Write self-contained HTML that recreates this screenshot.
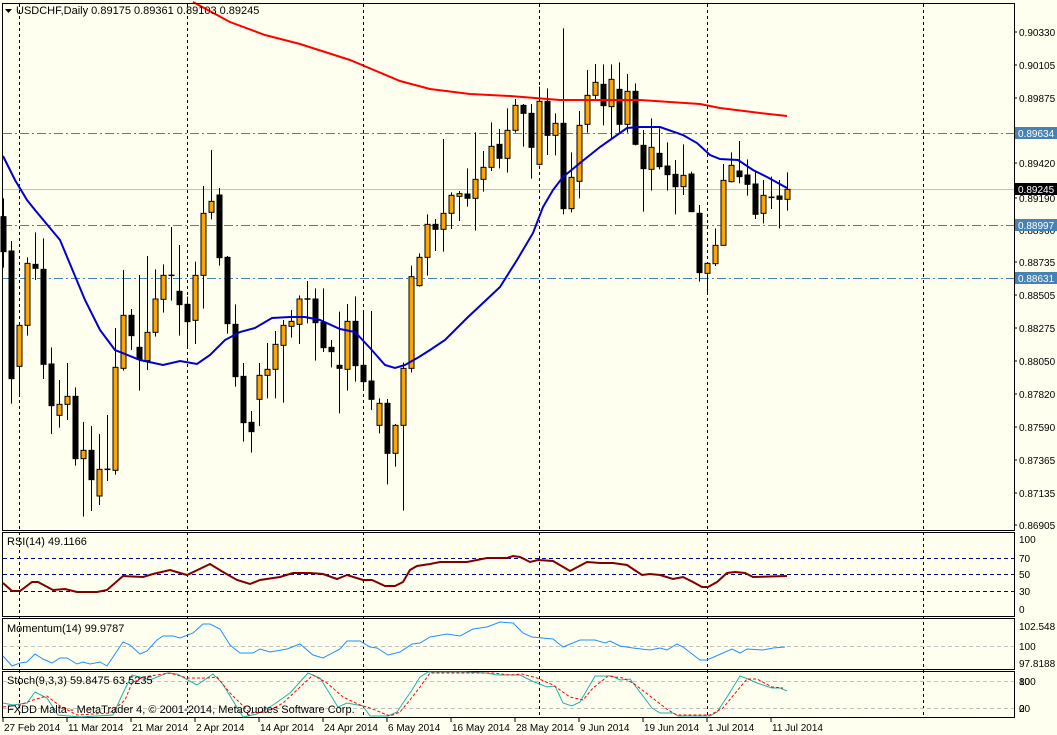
<!DOCTYPE html>
<html><head><meta charset="utf-8"><style>
html,body{margin:0;padding:0;background:#FFFFF0;}
svg{display:block;font-family:"Liberation Sans",sans-serif;}
</style></head><body>
<svg id="s" width="1057" height="735" xmlns="http://www.w3.org/2000/svg">
<rect width="1057" height="735" fill="#FFFFF0"/>
<g id="grid" stroke="#000" stroke-width="1" stroke-dasharray="3,3">
<line x1="19.5" y1="4" x2="19.5" y2="718"/><line x1="187.5" y1="4" x2="187.5" y2="718"/>
<line x1="363.5" y1="4" x2="363.5" y2="718"/><line x1="539.5" y1="4" x2="539.5" y2="718"/>
<line x1="707.5" y1="4" x2="707.5" y2="718"/><line x1="923.5" y1="4" x2="923.5" y2="718"/>
</g>
<g stroke="#4682B4" stroke-width="1" stroke-dasharray="9,3,2,3">
<line x1="3" y1="133.5" x2="1014" y2="133.5"/><line x1="3" y1="225.5" x2="1014" y2="225.5"/><line x1="3" y1="278.5" x2="1014" y2="278.5"/>
</g>
<line x1="3" y1="189.5" x2="1014" y2="189.5" stroke="#C0C0C0"/>
<g id="candles"></g>
<polyline id="red" fill="none" stroke="#FF0000" stroke-width="2" points="193,2 230,22 265,35 300,44 350,60 400,81 430,89 470,94 510,96 560,100 640,100 700,104 720,108 760,113 787,116"/>
<polyline id="blue" fill="none" stroke="#0000CC" stroke-width="2" points="3,156 15,180 27,200 35,210 60,240 85,300 100,330 115,350 140,360 163,365 180,361 197,364 210,355 225,340 240,332 255,328 272,318 290,317 305,317 320,320 340,329 355,332 370,348 385,365 395,368 405,365 419,357 430,350 445,340 455,330 467,318 483,303 500,287 517,260 533,233 543,207 553,190 563,177 580,163 600,147 627,128 640,127 660,127 683,135 697,143 710,155 720,159 738,160 753,170 767,177 787,188"/>
<!-- panel borders -->
<g fill="none" stroke="#000" stroke-width="1">
<rect x="2.5" y="3.5" width="1012" height="527"/>
<rect x="2.5" y="532.5" width="1012" height="84"/>
<rect x="2.5" y="618.5" width="1012" height="51"/>
<rect x="2.5" y="671.5" width="1012" height="46"/>
</g>
<!-- RSI -->
<g stroke="#000080" stroke-dasharray="4,3"><line x1="3" y1="558.5" x2="1014" y2="558.5"/><line x1="3" y1="574.5" x2="1014" y2="574.5"/><line x1="3" y1="591.5" x2="1014" y2="591.5"/></g>
<polyline fill="none" stroke="#800000" stroke-width="2" points="3,583 12,591 20,591 32,582 38,582 53,590 65,589 77,592 97,592 107,590 123,576 143,577 153,574 170,570 187,575 210,564 223,572 237,580 250,584 260,580 280,577 293,573 310,573 323,574 337,579 347,575 363,580 372,580 385,586 395,586 403,582 410,570 417,566 430,564 440,562 467,562 487,558 507,558 513,556 520,557 530,562 538,560 553,561 570,571 587,562 600,563 613,563 627,565 642,575 650,574 660,575 673,579 683,577 693,582 702,587 708,587 717,582 727,573 735,572 745,573 753,577 787,576"/>
<!-- Momentum -->
<line x1="3" y1="646.5" x2="1014" y2="646.5" stroke="#C0C0C0" stroke-dasharray="4,3"/>
<polyline fill="none" stroke="#1E90FF" stroke-width="1" points="3,656 12,666 20,663 27,662 35,654 43,659 52,663 60,658 67,658 77,664 83,662 90,664 100,662 107,666 123,642 130,645 140,654 147,651 157,640 163,636 173,636 180,638 193,633 203,624 210,624 220,629 230,645 240,653 253,653 260,649 270,652 287,649 300,644 313,655 323,658 340,649 347,641 360,641 370,647 377,648 388,655 400,652 412,644 420,643 430,637 447,634 460,636 473,629 487,627 500,622 513,623 523,633 532,637 553,639 563,647 580,640 595,640 605,643 610,641 620,646 633,648 650,650 660,648 667,650 677,644 683,647 700,660 707,660 723,653 732,649 740,653 747,649 763,650 773,648 785,647"/>
<!-- Stoch -->
<g stroke="#C0C0C0" stroke-dasharray="4,3"><line x1="3" y1="681.5" x2="1014" y2="681.5"/><line x1="3" y1="708.5" x2="1014" y2="708.5"/></g>
<polyline fill="none" stroke="#20B2AA" stroke-width="1" points="3,703 13,705 27,703 35,692 47,698 58,715 80,717 113,715 123,693 132,675 150,680 167,673 177,674 197,685 213,674 222,683 243,717 257,714 273,705 290,693 308,673 320,678 338,707 347,703 363,706 370,716 388,716 397,712 403,703 412,690 420,677 428,672 463,672 487,673 497,675 520,675 532,681 547,687 555,686 563,703 572,706 580,702 595,676 612,676 620,680 630,679 652,708 660,713 673,713 678,716 710,716 717,712 727,697 740,676 748,679 757,683 772,688 780,688 787,691"/>
<polyline fill="none" stroke="#FF0000" stroke-width="1" stroke-dasharray="3,2" points="3,707 20,705 33,700 47,696 60,706 77,715 110,713 125,700 132,683 143,677 170,673 187,678 207,678 217,677 230,693 250,713 267,712 283,703 313,675 327,683 343,697 360,705 370,708 390,716 400,712 410,700 420,687 430,673 493,673 510,675 522,674 537,678 553,685 570,697 583,700 593,688 608,676 623,678 633,683 650,696 668,710 677,715 710,715 723,708 732,697 747,679 757,679 772,687 783,688"/>
<!-- texts -->
<g font-size="11" fill="#000">
<path d="M5,9 L12,9 L8.5,13 Z" fill="#000"/>
<text x="16" y="14">USDCHF,Daily  0.89175 0.89361 0.89103 0.89245</text>
<text x="7" y="545">RSI(14) 49.1166</text>
<text x="7" y="632">Momentum(14) 99.9787</text>
<text x="7" y="684">Stoch(9,3,3) 59.8475 63.5235</text>
<text x="7" y="713">FXDD Malta - MetaTrader 4, © 2001-2014, MetaQuotes Software Corp.</text>
</g>
<g id="axis" font-size="10" fill="#000"></g>
<g id="dates" font-size="10" fill="#000"></g>
</svg>
<script>
var NS="http://www.w3.org/2000/svg";
function el(p,t,a,txt){var e=document.createElementNS(NS,t);for(var k in a)e.setAttribute(k,a[k]);if(txt!==undefined)e.textContent=txt;p.appendChild(e);return e;}
// [type, wickTop, bodyTop, bodyBot, wickBot] zoom coords
var A=[["B",55,110,215,263],["B",183,213,596,671],["O",430,436,559,650],["O",232,250,436,467],["B",157,253,265,300],["B",175,268,553,597],["B",502,552,677,762],["O",600,673,706,743],["O",549,649,673,720],["B",622,649,836,857],["O",726,811,836,1010],["B",738,811,899,993],["O",762,868,948,975],["B",705,868,872,903],["O",444,562,871,884],["O",270,406,565,572],["B",387,406,467,510],["B",285,502,538,632],["O",228,457,542,570],["O",268,357,457,470],["O",253,286,358,398],["B",141,286,290,362],["B",195,334,374,467],["B",350,373,425,505],["O",245,286,421,492],["O",18,100,286,386],["O",-90,64,97,118],["B",24,45,233,257],["B",228,232,431,461],["B",373,433,590,620],["B",549,589,728,785],["B",693,727,755,818],["O",549,586,658,738],["O",489,568,586,655],["O",453,493,568,655],["O",420,436,496,668],["O",390,424,439,473],["O",346,357,433,492],["B",303,357,359,430],["B",325,357,428,542],["B",325,427,503,516],["B",480,502,515,562],["B",395,556,565,700],["O",372,424,568,632],["B",349,424,557,605],["B",392,556,605,625],["B",393,603,658,690],["O",655,670,736,760],["B",657,670,820,913],["O",732,736,820,860],["O",548,565,736,992],["O",257,290,565,577]];
var B=[["O",700,712,797,800],["O",583,613,712,767],["B",597,613,628,693],["O",357,580,628,695],["O",517,526,580,627],["O",513,521,529,603],["B",445,522,535,560],["O",337,478,535,632],["O",393,442,478,515],["O",307,379,442,453],["B",327,373,415,445],["O",265,331,415,458],["O",237,256,331,338],["B",252,256,280,380],["B",252,280,382,476],["O",200,244,433,436],["B",205,244,346,405],["O",280,310,346,406],["B",25,310,566,583],["O",397,472,566,577],["O",273,316,484,535],["O",150,226,313,338],["O",132,187,226,243],["B",133,193,257,316],["O",133,178,260,355],["B",127,208,313,336],["O",162,214,313,338],["B",190,214,373,376],["B",330,376,446,575],["O",295,382,448,512],["B",325,400,440,448],["B",367,438,464,512],["B",420,463,500,583],["O",373,466,500,525],["B",455,462,575,575],["B",555,580,758,785],["O",730,730,760,817],["O",625,676,731,738],["O",432,481,676,676],["O",397,436,485,487],["B",363,453,470,490],["B",418,465,493,527],["B",455,492,583,597],["O",480,526,580,610],["B",470,532,534,567],["B",480,528,538,625],["O",457,508,538,572]];
var g=document.getElementById("candles");
function draw(c,x,oy){var wt=oy+c[1]/3,bt=oy+c[2]/3,bb=oy+c[3]/3,wb=oy+c[4]/3;
 if(wt<4)wt=4;
 el(g,"line",{x1:x,y1:wt,x2:x,y2:wb,stroke:"#000","stroke-width":1});
 var h=bb-bt;
 if(h<1.5){el(g,"line",{x1:x-3,y1:bt,x2:x+3,y2:bt,stroke:"#000","stroke-width":1.5});}
 else el(g,"rect",{x:x-2.5,y:bt,width:5,height:h,fill:c[0]=="O"?"#FFA500":"#000",stroke:"#000","stroke-width":1});}
for(var i=0;i<A.length;i++)draw(A[i],3.5+8*i,180);
for(var j=0;j<B.length;j++)draw(B[j],3.5+8*(A.length+j),20);
var ax=document.getElementById("axis");
var labs=[["0.90330",32],["0.90105",65],["0.89875",98],["0.89420",163],["0.89190",198],["0.88960",230],["0.88735",262],["0.88505",295],["0.88275",328],["0.88050",361],["0.87820",394],["0.87590",427],["0.87365",460],["0.87135",493],["0.86905",525]];
labs.forEach(function(l){el(ax,"line",{x1:1014,y1:l[1],x2:1017,y2:l[1],stroke:"#000"});el(ax,"text",{x:1019,y:l[1]+4},l[0]);});
[["0.89634",133,"#4682B4"],["0.88997",225,"#4682B4"],["0.88631",278,"#4682B4"],["0.89245",189,"#000"]].forEach(function(l){el(ax,"rect",{x:1015,y:l[1]-6,width:42,height:12,fill:l[2]});el(ax,"text",{x:1018,y:l[1]+4,fill:"#fff"},l[0]);});
[["100",539],["70",558],["50",574],["30",591],["0",609],["102.548",626],["100",646],["97.8188",663],["100",681],["80",681],["20",708],["0",708]].forEach(function(l){el(ax,"text",{x:1019,y:l[1]+4},l[0]);});
var dg=document.getElementById("dates");
[["27 Feb 2014",3],["11 Mar 2014",67],["21 Mar 2014",131],["2 Apr 2014",195],["14 Apr 2014",259],["24 Apr 2014",323],["6 May 2014",387],["16 May 2014",451],["28 May 2014",515],["9 Jun 2014",579],["19 Jun 2014",643],["1 Jul 2014",707],["11 Jul 2014",771]].forEach(function(d){el(dg,"line",{x1:d[1],y1:718,x2:d[1],y2:722,stroke:"#000"});el(dg,"text",{x:d[1]+1,y:731},d[0]);});
</script>
</body></html>
